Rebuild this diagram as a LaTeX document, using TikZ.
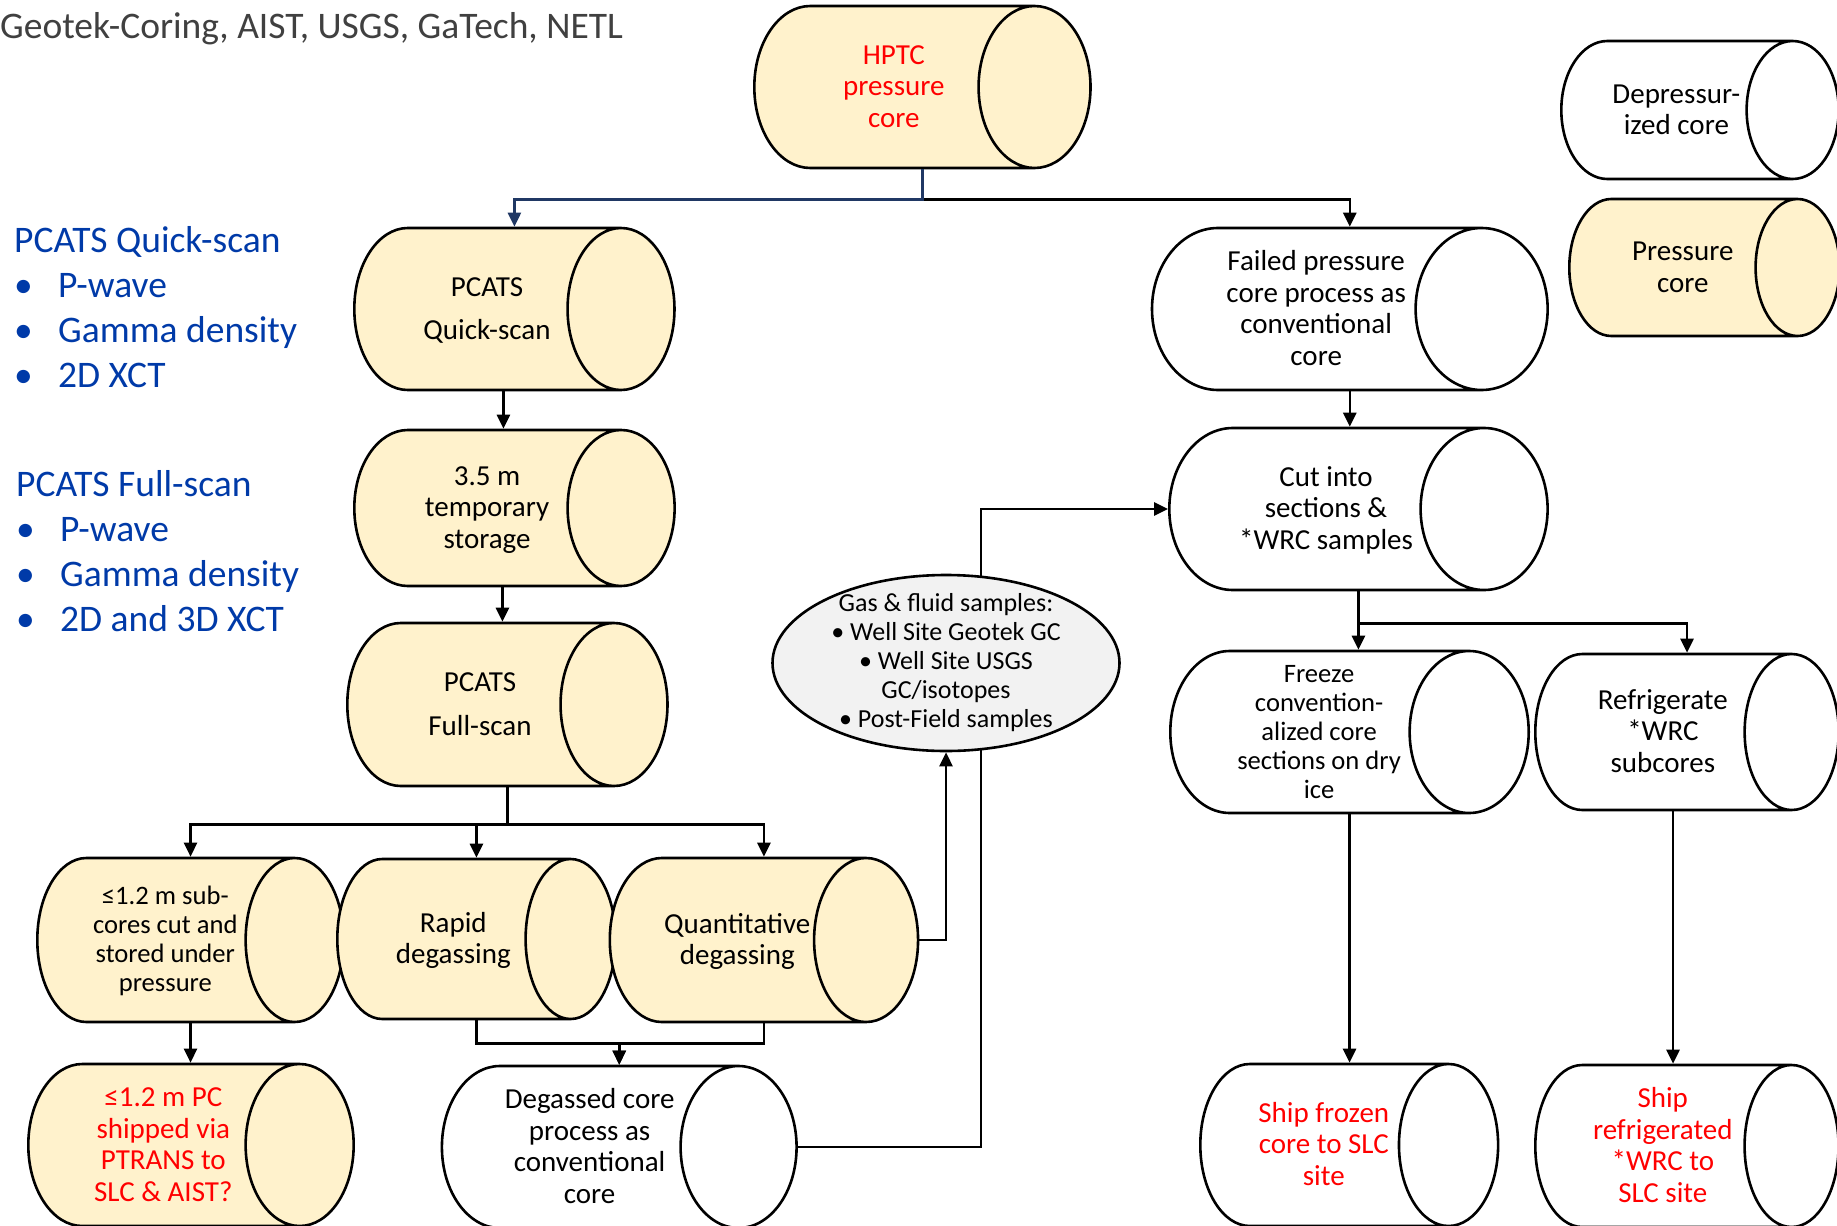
\documentclass[tikz,border=0pt]{standalone}
\usepackage{fontspec}
\setmainfont{Carlito}
\usetikzlibrary{shapes.geometric,arrows.meta}
\definecolor{corefill}{HTML}{FFF2CC}
\definecolor{gasfill}{HTML}{F2F2F2}
\definecolor{listblue}{RGB}{0,58,168}
\definecolor{linknavy}{RGB}{32,56,100}
\definecolor{titlegrey}{HTML}{404040}
\newcommand\coretext[3]{\makebox[#1pt]{$\vcenter to #2pt{\vss\kern5pt\hbox{\begin{tabular}{@{}c@{}}#3\end{tabular}}\vss}$}}

\begin{document}
\begin{tikzpicture}[x=1pt,y=-1pt]
  \tikzset{core/.style={cylinder, draw, line width=2.6pt, anchor=west, inner sep=0pt,
      font=\fontsize{29}{31.5}\selectfont},
    pcore/.style={core, fill=corefill},
    dcore/.style={core, fill=white},
    small/.style={font=\fontsize{26.6}{29}\selectfont},
    link/.style={line width=2.6pt, -{Triangle[length=14pt,width=13pt]}},
    bluelist/.style={anchor=base west, align=left, inner sep=0pt, text=listblue,
      font=\fontsize{37.5}{45}\selectfont}}
  \useasboundingbox (0,0) rectangle (1837,1226);
  \node[anchor=base west, inner sep=0pt, text=titlegrey, font=\fontsize{37.5}{44}\selectfont] (title) at (0,38)
    {Geotek-Coring, AIST, USGS, GaTech, NETL};
  \node[bluelist] (quicklist) at (14,387) {PCATS Quick-scan\\\makebox[44pt][l]{•}P-wave\\
    \makebox[44pt][l]{•}Gamma density\\\makebox[44pt][l]{•}2D XCT};
  \node[bluelist] (fulllist) at (16,631) {PCATS Full-scan\\\makebox[44pt][l]{•}P-wave\\
    \makebox[44pt][l]{•}Gamma density\\\makebox[44pt][l]{•}2D and 3D XCT};

  \node[pcore, aspect=0.691, text=red] (hptc) at (753,87) {\coretext{167}{162}{HPTC\\pressure\\core}};
  \node[pcore, aspect=0.660] (qscan) at (353,309) {\coretext{158.5}{162}{PCATS\\[12pt]Quick-scan}};
  \node[pcore, aspect=0.686] (store) at (353,508) {\coretext{158.5}{156}{3.5 m\\temporary\\storage}};
  \node[pcore, aspect=0.656] (fscan) at (346,704.5) {\coretext{158.5}{163}{PCATS\\[12pt]Full-scan}};
  \node[pcore, small, aspect=0.598] (subc) at (36,940) {\coretext{158}{164}{≤1.2 m sub-\\cores cut and\\stored under\\pressure}};
  \node[pcore, aspect=0.5625] (rapid) at (336,939) {\coretext{142}{160}{Rapid\\degassing}};
  \node[pcore, aspect=0.634] (quant) at (608.5,940) {\coretext{151}{164}{Quantitative\\degassing}};
  \node[pcore, aspect=0.667, text=red] (pc) at (27,1145) {\coretext{162}{162}{≤1.2 m PC\\shipped via\\PTRANS to\\SLC \& AIST?}};
  \node[dcore, aspect=0.716] (degas) at (440.6,1147) {\coretext{179.4}{162}{Degassed core\\process as\\conventional\\core}};
  \node[dcore, aspect=0.815] (fail) at (1150.7,309) {\coretext{196.3}{162}{Failed pressure\\core process as\\conventional\\core}};
  \node[dcore, aspect=0.784] (cut) at (1168,509) {\coretext{186.5}{162}{Cut into\\sections \&\\{*}WRC samples}};
  \node[dcore, small, aspect=0.735] (freeze) at (1169,732) {\coretext{178.5}{162}{Freeze\\convention-\\alized core\\sections on dry\\ice}};
  \node[dcore, aspect=0.603] (refr) at (1534,732) {\coretext{161}{156}{Refrigerate\\{*}WRC\\subcores}};
  \node[dcore, aspect=0.612, text=red] (shipf) at (1199,1145) {\coretext{147.8}{162}{Ship frozen\\core to SLC\\site}};
  \node[dcore, aspect=0.58, text=red] (shipr) at (1534,1146) {\coretext{161}{162}{Ship\\refrigerated\\{*}WRC to\\SLC site}};
  \node[dcore, aspect=0.667] (depr) at (1560,110) {\coretext{138}{138}{Depressur-\\ized core}};
  \node[pcore, aspect=0.613] (press) at (1568,267.5) {\coretext{143}{137}{Pressure\\core}};

  \coordinate (jog) at (981,800);
  \draw[link] (degas.east) -| (jog) |- (cut.west);
  \node[ellipse, draw, line width=2.6pt, fill=gasfill, minimum width=347pt, minimum height=176pt, inner sep=0pt] (gas) at (946,663) {};
  \node[align=center, inner sep=0pt, font=\fontsize{26}{29}\selectfont] (gastext) at (gas.center)
    {Gas \& fluid samples:\\• Well Site Geotek GC\\• Well Site USGS\\GC/isotopes\\• Post-Field samples};

  \coordinate (qsdrop) at ([xshift=-11pt]qscan.shape center);
  \coordinate (stdrop) at ([xshift=-12pt]store.shape center);
  \coordinate (rfdrop) at ([xshift=-14pt]refr.shape center);
  \draw[link] (hptc.shape center |- hptc.south) ++(0,30) -| (fail.shape center |- fail.north);
  \draw[link, linknavy] (hptc.shape center |- hptc.south) -- ++(0,30) -| (qscan.shape center |- qscan.north);
  \draw[link] (qsdrop |- qscan.south) -- (qsdrop |- store.north);
  \draw[link] (stdrop |- store.south) -- (stdrop |- fscan.north);
  \draw[link] (fscan.shape center |- fscan.south) -- ++(0,37) -| (subc.shape center |- subc.north);
  \draw[link] (fscan.shape center |- fscan.south) ++(0,37) -| (rapid.shape center |- rapid.north);
  \draw[link] (fscan.shape center |- fscan.south) ++(0,37) -| (quant.shape center |- quant.north);
  \draw[link] (subc.shape center |- subc.south) -- (subc.shape center |- pc.north);
  \draw[link] (rapid.shape center |- rapid.south) -- ++(0,23) -| (degas.shape center |- degas.north);
  \draw[link] (quant.shape center |- quant.south) -- ++(0,20) -| (degas.shape center |- degas.north);
  \draw[link] (quant.east) -| (gas.south);
  \draw[link] (fail.shape center |- fail.south) -- (fail.shape center |- cut.north);
  \draw[link] (cut.shape center |- cut.south) -- (cut.shape center |- freeze.north);
  \draw[link] (cut.shape center |- cut.south) ++(0,32) -| (refr.shape center |- refr.north);
  \draw[link] (freeze.shape center |- freeze.south) -- (freeze.shape center |- shipf.north);
  \draw[link] (rfdrop |- refr.south) -- (rfdrop |- shipr.north);
\end{tikzpicture}
\end{document}
